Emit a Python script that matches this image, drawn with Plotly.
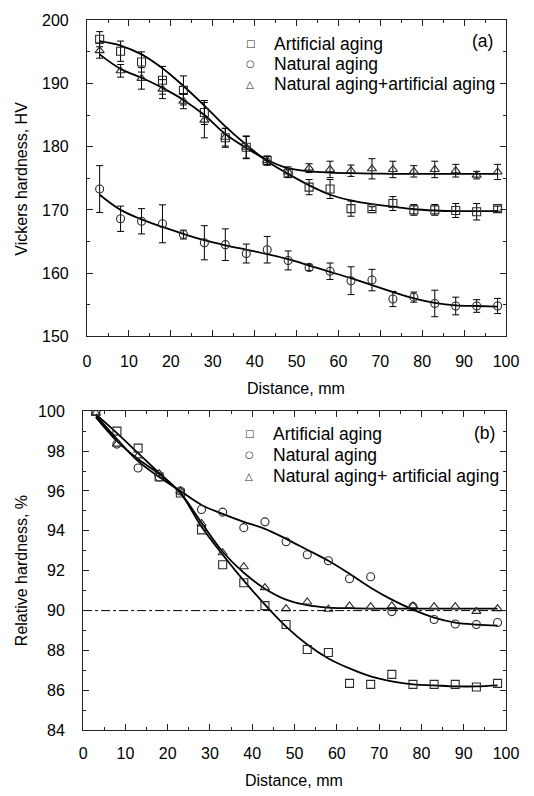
import plotly.graph_objects as go

# ---------------- data ----------------
distance = [3, 8, 13, 18, 23, 28, 33, 38, 43, 48, 53, 58, 63, 68, 73, 78, 83, 88, 93, 98]

# (a) Vickers hardness
hv_artificial = [197.0, 195.1, 193.4, 190.5, 188.9, 185.4, 181.4, 179.9, 177.8, 175.8,
                 173.6, 173.3, 170.2, 170.2, 171.0, 170.0, 170.0, 169.9, 169.7, 170.2]
hv_artificial_err = [1.2, 1.6, 1.6, 2.2, 2.3, 1.9, 1.5, 1.8, 0.7, 0.7,
                     1.2, 1.5, 1.2, 0.3, 1.1, 0.85, 0.85, 1.1, 1.3, 0.4]
hv_natural = [173.3, 168.6, 168.2, 167.8, 166.1, 164.8, 164.5, 163.1, 163.7, 162.0,
              160.9, 160.3, 158.8, 158.9, 155.9, 156.2, 155.2, 154.8, 154.8, 154.8]
hv_natural_err = [3.7, 2.0, 2.0, 3.0, 0.7, 2.7, 2.5, 1.5, 2.1, 1.5,
                  0.5, 1.3, 2.2, 1.7, 1.2, 0.8, 2.1, 1.4, 1.0, 1.2]
hv_combined = [195.2, 192.0, 190.8, 189.1, 187.2, 184.2, 181.5, 179.9, 177.8, 176.0,
               176.6, 176.4, 176.2, 176.5, 176.4, 176.1, 176.4, 176.2, 175.5, 176.0]
hv_combined_err = [1.2, 1.0, 1.7, 1.5, 1.2, 2.8, 1.4, 1.7, 0.7, 0.8,
                   0.7, 1.3, 0.9, 1.6, 1.3, 0.9, 1.3, 1.0, 0.6, 1.2]

hv_artificial_fit = [196.7, 196.0, 194.6, 192.4, 189.6, 186.5, 183.2, 180.3, 177.7, 175.7,
                     173.9, 172.4, 171.5, 170.9, 170.5, 170.1, 169.9, 169.8, 169.8, 169.8]
hv_natural_fit = [172.4, 170.0, 168.5, 167.3, 166.2, 165.2, 164.4, 163.7, 163.0, 162.2,
                  161.2, 160.2, 159.2, 158.1, 157.0, 156.0, 155.3, 154.9, 154.8, 154.7]
hv_combined_fit = [194.6, 192.3, 190.9, 189.3, 187.4, 185.0, 182.0, 179.8, 177.9, 176.6,
                   176.1, 175.9, 175.8, 175.75, 175.7, 175.7, 175.7, 175.7, 175.7, 175.7]

# (b) Relative hardness
rel_artificial = [100.0, 99.0, 98.15, 96.7, 95.9, 94.05, 92.3, 91.4, 90.25, 89.3,
                  88.05, 87.9, 86.35, 86.3, 86.8, 86.3, 86.3, 86.3, 86.17, 86.35]
rel_natural = [100.0, 98.35, 97.15, 96.7, 96.0, 95.07, 94.94, 94.16, 94.45, 93.45,
               92.8, 92.5, 91.6, 91.7, 89.95, 90.2, 89.55, 89.33, 89.3, 89.4]
rel_combined = [99.9, 98.35, 97.76, 96.87, 96.0, 94.37, 92.9, 92.2, 91.15, 90.1,
                90.43, 90.07, 90.24, 90.2, 90.24, 90.24, 90.2, 90.2, 89.96, 90.1]

rel_artificial_fit = [99.85, 98.9, 97.9, 96.9, 95.9, 94.2, 92.8, 91.5, 90.3, 89.2,
                      88.3, 87.6, 87.1, 86.7, 86.45, 86.3, 86.25, 86.2, 86.2, 86.25]
rel_natural_fit = [99.8, 98.6, 97.5, 96.7, 96.0, 95.3, 94.85, 94.45, 94.1, 93.6,
                   93.05, 92.5, 91.85, 91.15, 90.55, 90.05, 89.65, 89.4, 89.3, 89.25]
rel_combined_fit = [99.7, 98.5, 97.6, 96.85, 95.9, 94.4, 92.95, 91.9, 91.1, 90.55,
                    90.27, 90.15, 90.12, 90.1, 90.1, 90.1, 90.1, 90.1, 90.1, 90.1]

reference_level = 90

legend_a = ["Artificial aging", "Natural aging", "Natural aging+artificial aging"]
legend_b = ["Artificial aging", "Natural aging", "Natural aging+ artificial aging"]
legend_glyphs = ["\u25a1", "\u25cb", "\u25b3"]
symbols = ["square-open", "circle-open", "triangle-up-open"]

x_ticks = list(range(0, 101, 10))
hv_ticks = list(range(150, 201, 10))
rel_ticks = list(range(84, 101, 2))

# ---------------- figure ----------------
W, H = 534, 796
FONT = "Liberation Sans, Arial, sans-serif"
MK = "#2a2a2a"

fig = go.Figure()

def px_x(p):
    return p / W

def px_y(p):
    return 1 - p / H

# top panel
for vals, errs, fit, sym in [(hv_artificial, hv_artificial_err, hv_artificial_fit, symbols[0]),
                             (hv_natural, hv_natural_err, hv_natural_fit, symbols[1]),
                             (hv_combined, hv_combined_err, hv_combined_fit, symbols[2])]:
    fig.add_trace(go.Scatter(x=distance, y=fit, mode="lines", line=dict(color="black", width=1.8, shape="spline"),
                             xaxis="x", yaxis="y", showlegend=False, hoverinfo="skip"))
    fig.add_trace(go.Scatter(x=distance, y=vals, mode="markers",
                             marker=dict(symbol=sym, size=8, color=MK, line=dict(width=1.1, color=MK)),
                             error_y=dict(type="data", array=errs, visible=True, color="black", thickness=1, width=3.5),
                             xaxis="x", yaxis="y", showlegend=False))

# bottom panel
for vals, fit, sym in [(rel_artificial, rel_artificial_fit, symbols[0]),
                       (rel_natural, rel_natural_fit, symbols[1]),
                       (rel_combined, rel_combined_fit, symbols[2])]:
    fig.add_trace(go.Scatter(x=distance, y=fit, mode="lines", line=dict(color="black", width=1.8, shape="spline"),
                             xaxis="x2", yaxis="y2", showlegend=False, hoverinfo="skip"))
    fig.add_trace(go.Scatter(x=distance, y=vals, mode="markers",
                             marker=dict(symbol=sym, size=8, color=MK, line=dict(width=1.1, color=MK)),
                             xaxis="x2", yaxis="y2", showlegend=False))

# reference line at 90 %
fig.add_trace(go.Scatter(x=[0, 100], y=[reference_level, reference_level], mode="lines",
                         line=dict(color="black", width=1, dash="dashdot"),
                         xaxis="x2", yaxis="y2", showlegend=False, hoverinfo="skip"))

axis_common = dict(showline=True, linecolor="#222", linewidth=1.2, mirror="ticks",
                   ticks="inside", ticklen=6, tickwidth=1, tickcolor="#222",
                   showgrid=False, zeroline=False,
                   tickfont=dict(family=FONT, size=16, color="black"))

fig.update_layout(
    width=W, height=H, autosize=False,
    margin=dict(l=0, r=0, t=0, b=0),
    paper_bgcolor="white", plot_bgcolor="white",
    font=dict(family=FONT, color="black"),
    showlegend=False,
    xaxis=dict(domain=[px_x(85.8), px_x(518.5)], anchor="y", range=[0, 100], tickvals=x_ticks,
               minor=dict(ticks="inside", dtick=5, ticklen=3, tickcolor="#222"),
               ticklabelstandoff=10, **axis_common),
    yaxis=dict(domain=[px_y(335.5), px_y(12.5)], anchor="x", range=[150, 200], tickvals=hv_ticks,
               minor=dict(ticks="inside", dtick=5, ticklen=3, tickcolor="#222"),
               ticklabelstandoff=14, **axis_common),
    xaxis2=dict(domain=[px_x(81.7), px_x(518.5)], anchor="y2", range=[0, 100], tickvals=x_ticks,
                minor=dict(ticks="inside", dtick=5, ticklen=3, tickcolor="#222"),
                ticklabelstandoff=8, **axis_common),
    yaxis2=dict(domain=[px_y(738), px_y(412)], anchor="x2", range=[84, 100], tickvals=rel_ticks,
                minor=dict(ticks="inside", dtick=1, ticklen=3, tickcolor="#222"),
                ticklabelstandoff=14, **axis_common),
)

# manual legends (text + small glyph markers)
LEG_FONT = dict(family=FONT, size=17.5, color="black")
GLYPH_FONT = dict(family="DejaVu Sans", size=10, color=MK)
for labels, rows, mx, tx in [(legend_a, [36.7, 57.2, 78.0], 254.5, 277.3),
                             (legend_b, [435.0, 456.7, 478.3], 253.3, 275.7)]:
    for label, glyph, ry in zip(labels, legend_glyphs, rows):
        fig.add_annotation(text=glyph, x=px_x(mx), y=px_y(ry), xref="paper", yref="paper",
                           showarrow=False, font=GLYPH_FONT, xanchor="center", yanchor="middle")
        fig.add_annotation(text=label, x=px_x(tx), y=px_y(ry), xref="paper", yref="paper",
                           showarrow=False, font=LEG_FONT, xanchor="left", yanchor="middle")

ann_font = dict(family=FONT, size=16, color="black")
fig.add_annotation(text="Distance, mm", x=px_x(302), y=px_y(389), xref="paper", yref="paper",
                   showarrow=False, font=ann_font, xanchor="center", yanchor="middle")
fig.add_annotation(text="Distance, mm", x=px_x(300), y=px_y(789), xref="paper", yref="paper",
                   showarrow=False, font=ann_font, xanchor="center", yanchor="middle")
fig.add_annotation(text="Vickers hardness, HV", x=px_x(18), y=px_y(174), xref="paper", yref="paper",
                   showarrow=False, font=ann_font, textangle=-90, xanchor="center", yanchor="middle")
fig.add_annotation(text="Relative hardness, %", x=px_x(18), y=px_y(575), xref="paper", yref="paper",
                   showarrow=False, font=ann_font, textangle=-90, xanchor="center", yanchor="middle")
fig.add_annotation(text="(a)", x=px_x(494), y=px_y(34), xref="paper", yref="paper",
                   showarrow=False, font=LEG_FONT, xanchor="center", yanchor="middle")
fig.add_annotation(text="(b)", x=px_x(496), y=px_y(434), xref="paper", yref="paper",
                   showarrow=False, font=LEG_FONT, xanchor="center", yanchor="middle")

fig.write_html("out.html")
